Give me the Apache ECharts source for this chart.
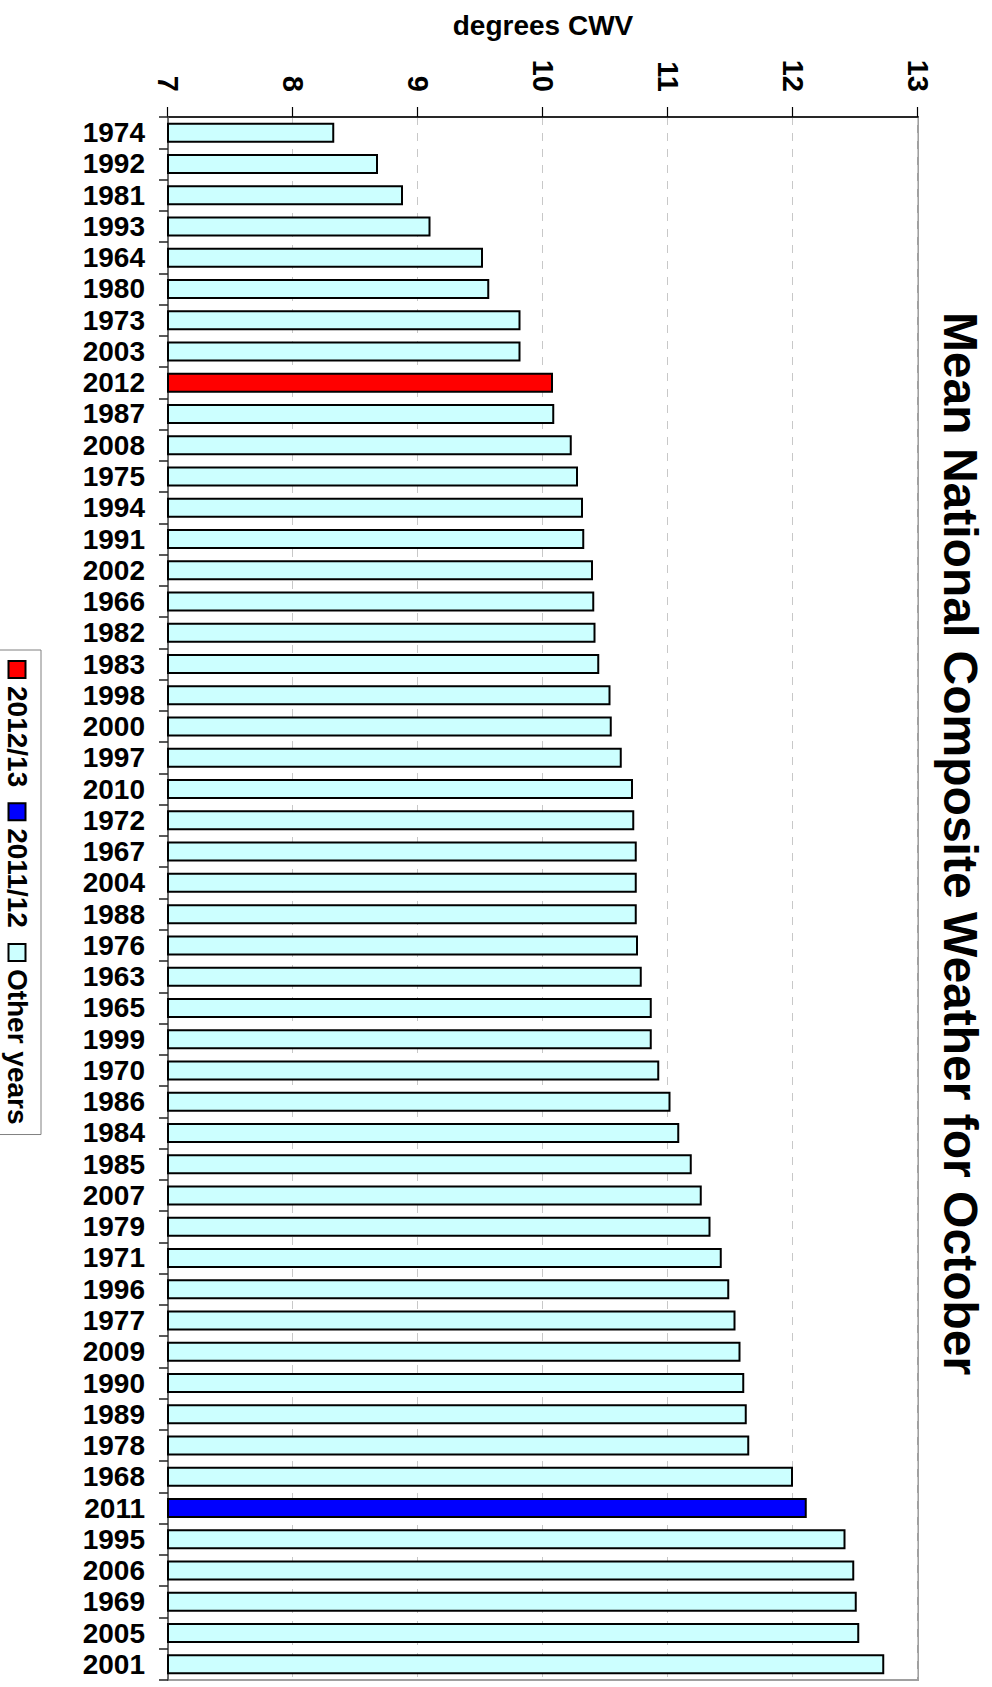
<!DOCTYPE html>
<html>
<head>
<meta charset="utf-8">
<script src="https://cdn.jsdelivr.net/npm/echarts@6/dist/echarts.min.js"></script>
<style>
html,body{margin:0;padding:0;background:#fff;overflow:hidden;width:992px;height:1687px;}
#chart{position:absolute;left:0;top:0;width:1687px;height:992px;transform-origin:0 0;transform:translateX(992px) rotate(90deg);}
</style>
</head>
<body>
<div id="chart"></div>
<script>
// Data (sorted ascending, as in the reference)
const years = ['1974','1992','1981','1993','1964','1980','1973','2003','2012','1987',
  '2008','1975','1994','1991','2002','1966','1982','1983','1998','2000',
  '1997','2010','1972','1967','2004','1988','1976','1963','1965','1999',
  '1970','1986','1984','1985','2007','1979','1971','1996','1977','2009',
  '1990','1989','1978','1968','2011','1995','2006','1969','2005','2001'];
const values = [8.33,8.68,8.88,9.10,9.52,9.57,9.82,9.82,10.08,10.09,
  10.23,10.28,10.32,10.33,10.40,10.41,10.42,10.45,10.54,10.55,
  10.63,10.72,10.73,10.75,10.75,10.75,10.76,10.79,10.87,10.87,
  10.93,11.02,11.09,11.19,11.27,11.34,11.43,11.49,11.54,11.58,
  11.61,11.63,11.65,12.00,12.11,12.42,12.49,12.51,12.53,12.73];
const seriesNames = ['2012/13','2011/12','Other years'];
const currentYear = '2012';
const previousYear = '2011';
const titleText = 'Mean National Composite Weather for October';
const axisName = 'degrees CWV';

const colors = {'2012/13':'#FF0000','2011/12':'#0000FF','Other years':'#CCFFFF'};
function pick(name){
  return values.map((v,i)=>{
    const y = years[i];
    if(name==='2012/13') return y===currentYear ? v : '-';
    if(name==='2011/12') return y===previousYear ? v : '-';
    return (y!==currentYear && y!==previousYear) ? v : '-';
  });
}
const FONT = '"Liberation Sans", Arial, Helvetica, sans-serif';
const chart = echarts.init(document.getElementById('chart'), null, {renderer:'svg', width:1687, height:992});
chart.setOption({
  animation:false,
  backgroundColor:'#fff',
  title:{
    text:titleText, left:'center', top:3,
    textStyle:{fontFamily:FONT, fontSize:48, fontWeight:'bold', color:'#000'}
  },
  legend:{
    data:seriesNames, left:650, top:951, orient:'horizontal',
    itemWidth:17, itemHeight:17, itemGap:15, icon:'rect',
    padding:[10,10,10,10], borderColor:'#808080', borderWidth:1,
    textStyle:{fontFamily:FONT, fontSize:28, fontWeight:'bold', color:'#000', padding:[0,0,0,3]}
  },
  grid:{left:117, right:7, top:74, bottom:168, show:true, borderColor:'#a0a0a0', borderWidth:2, backgroundColor:'transparent'},
  xAxis:{
    type:'category', data:years, boundaryGap:true,
    axisLine:{lineStyle:{color:'#555', width:1.5}},
    axisTick:{show:true, length:9, inside:false, lineStyle:{color:'#222', width:1.5}},
    axisLabel:{rotate:90, margin:23, interval:0, fontFamily:FONT, fontSize:28, fontWeight:'bold', color:'#000'}
  },
  yAxis:{
    type:'value', min:7, max:13, interval:1,
    name:axisName, nameLocation:'middle', nameGap:78, nameRotate:90,
    nameTextStyle:{fontFamily:FONT, fontSize:28, fontWeight:'bold', color:'#000'},
    axisLine:{show:true, lineStyle:{color:'#000', width:1.5}},
    axisTick:{show:true, length:10, lineStyle:{color:'#000', width:1.2}},
    axisLabel:{margin:25, fontFamily:FONT, fontSize:29, fontWeight:'bold', color:'#000'},
    splitLine:{show:true, lineStyle:{color:'#c8c8c8', type:[8,8], width:1}}
  },
  series: seriesNames.map(n=>({
    name:n, type:'bar', stack:'all', data:pick(n), barWidth:20,
    itemStyle:{color:colors[n], borderColor:'#000', borderWidth:2}
  }))
});
</script>
</body>
</html>
